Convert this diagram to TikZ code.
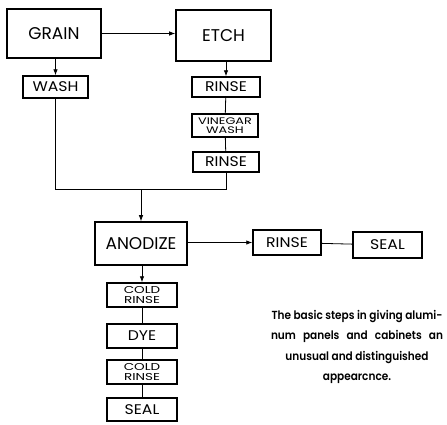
\documentclass[tikz,border=0pt]{standalone}
\usepackage{fontspec}
\setmainfont{Poppins}
\newfontfamily\notefont[FakeStretch=0.9]{Poppins SemiBold}
\newfontfamily\widefont[FakeStretch=1.12]{Poppins}
\newfontfamily\tinyfont[FakeStretch=1.35]{Poppins}
\usetikzlibrary{arrows.meta}
\begin{document}
\begin{tikzpicture}[x=1pt,y=-1pt,
  bigbox/.style={draw,line width=1.6pt,inner sep=0pt,minimum width=94pt,minimum height=49pt,font=\fontsize{17}{17}\selectfont},
  smallbox/.style={draw,line width=1.5pt,inner sep=0pt,minimum width=67pt,minimum height=22pt,font=\widefont\fontsize{14}{14}\selectfont},
  tinytext/.style={font=\tinyfont\fontsize{10}{10.5}\selectfont,align=center},
  link/.style={line width=0.8pt},
  flow/.style={line width=0.8pt,-{Latex[length=6pt,width=4.5pt]}}]
\useasboundingbox (0,0) rectangle (447,424);

% grain / etch branch
\node[bigbox] (grain) at (54,33.5) {GRAIN};
\node[bigbox,minimum width=95pt,minimum height=51pt] (etch) at (223.5,35.5) {ETCH};
\node[smallbox,minimum width=65pt] (wash) at (55.5,87) {WASH};
\node[smallbox,minimum width=68pt,minimum height=20pt] (rinseA) at (226,87) {RINSE};
\node[smallbox,minimum width=66pt,minimum height=23pt,tinytext,font=\tinyfont\fontsize{9.5}{9.5}\selectfont] (vinegar) at (225,125.5) {VINEGAR\\WASH};
\node[smallbox,minimum width=66pt,minimum height=20pt] (rinseB) at (226,162) {RINSE};
\coordinate (join) at (141,189);

% anodize and what follows
\node[bigbox,minimum width=92pt,minimum height=43pt] (anodize) at (141,243.5) {ANODIZE};
\node[smallbox,minimum width=68pt,minimum height=25pt] (rinseC) at (287,242.5) {RINSE};
\node[smallbox,minimum width=69pt,minimum height=26pt] (sealA) at (387.5,245) {SEAL};
\node[smallbox,minimum width=70pt,minimum height=24pt,tinytext] (coldA) at (142,295) {COLD\\RINSE};
\node[smallbox,minimum width=70pt,minimum height=24pt] (dye) at (142,336) {DYE};
\node[smallbox,minimum width=70pt,minimum height=24pt,tinytext] (coldB) at (142,372) {COLD\\RINSE};
\node[smallbox,minimum width=70pt,minimum height=23pt] (sealB) at (142,409.5) {SEAL};

% connectors
\draw[flow] (grain.east) -- (grain.east -| etch.west);
\draw[flow] (grain.south -| wash.north) -- (wash.north);
\draw[flow] (etch.south -| rinseA.north) -- (rinseA.north);
\draw[link] (rinseA) -- (vinegar) -- (rinseB);
\draw[link] (wash.south) |- (join);
\draw[link] (rinseB.south) |- (join);
\draw[flow] (join) -- (join |- anodize.north);
\draw[flow] (anodize.east |- rinseC.west) -- (rinseC.west);
\draw[link] (rinseC) -- (sealA);
\draw[flow] (anodize.south -| coldA.north) -- (coldA.north);
\draw[link] (coldA) -- (dye) -- (coldB) -- (sealB);

% caption
\node[font=\notefont\fontsize{11.7}{20.5}\selectfont,align=center] (note) at (357,347)
  {The basic steps in giving alumi-\\\makebox[172pt][s]{num panels and cabinets an}\\unusual and distinguished\\appearcnce.};
\end{tikzpicture}
\end{document}
